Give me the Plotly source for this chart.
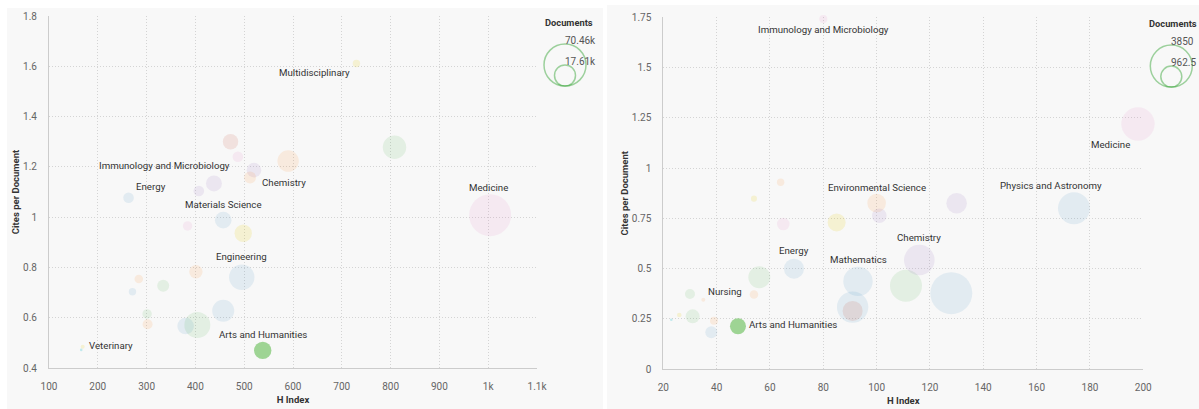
import plotly.graph_objects as go

# ---------------- data: left chart ----------------
left_subjects = [
    "Neuroscience", "Immunology and Microbiology", "Earth and Planetary Sciences",
    "Chemistry", "Chemical Engineering", "Economics, Econometrics and Finance",
    "Business, Management and Accounting", "Energy", "Materials Science",
    "Pharmacology, Toxicology and Pharmaceutics", "Decision Sciences", "Health Professions",
    "Engineering", "Nursing", "Psychology", "Mathematics",
    "Biochemistry, Genetics and Molecular Biology", "Environmental Science",
    "Physics and Astronomy", "Computer Science", "Social Sciences", "Arts and Humanities",
    "Veterinary", "Dentistry", "Multidisciplinary", "Agricultural and Biological Sciences",
    "Medicine",
]
left_h_index = [472, 487, 590, 520, 512, 438, 407, 263, 457, 384, 498, 401, 495, 284,
                334, 271, 301, 302, 457, 380, 404, 538, 169, 166, 730, 808, 1004]
left_cites = [1.30, 1.24, 1.223, 1.187, 1.158, 1.134, 1.104, 1.077, 0.988, 0.965, 0.936,
              0.783, 0.761, 0.754, 0.727, 0.703, 0.615, 0.574, 0.628, 0.567, 0.571, 0.470,
              0.485, 0.472, 1.611, 1.278, 1.008]
left_documents = [9475, 4490, 18300, 8515, 5750, 10225, 4490, 4490, 11010, 3530, 12095,
                  7170, 25775, 2955, 5750, 2190, 3530, 3995, 19335, 11010, 27005, 12095,
                  640, 270, 2190, 21875, 70460]
left_labelled = ["Immunology and Microbiology", "Chemistry", "Energy", "Materials Science",
                 "Engineering", "Arts and Humanities", "Veterinary", "Multidisciplinary",
                 "Medicine"]
left_legend_values = [70460, 17615]
left_legend_text = ["70.46k", "17.61k"]
left_x_ticks = [100, 200, 300, 400, 500, 600, 700, 800, 900, 1000, 1100]
left_x_ticktext = ["100", "200", "300", "400", "500", "600", "700", "800", "900", "1k", "1.1k"]
left_y_ticks = [0.4, 0.6, 0.8, 1.0, 1.2, 1.4, 1.6, 1.8]
left_y_ticktext = ["0.4", "0.6", "0.8", "1", "1.2", "1.4", "1.6", "1.8"]

# ---------------- data: right chart ----------------
right_subjects = [
    "Earth and Planetary Sciences", "Multidisciplinary", "Environmental Science",
    "Business, Management and Accounting", "Pharmacology, Toxicology and Pharmaceutics",
    "Decision Sciences", "Energy", "Psychology",
    "Biochemistry, Genetics and Molecular Biology", "Nursing", "Health Professions",
    "Veterinary", "Dentistry", "Agricultural and Biological Sciences", "Chemical Engineering",
    "Materials Science", "Arts and Humanities", "Mathematics", "Computer Science",
    "Neuroscience", "Social Sciences", "Chemistry", "Engineering",
    "Economics, Econometrics and Finance", "Physics and Astronomy", "Medicine",
    "Immunology and Microbiology",
]
right_h_index = [64, 54, 100, 101, 65, 85, 69, 56, 30, 35, 54, 26, 23, 31, 39, 38, 48,
                 93, 91, 91, 111, 116, 128, 130, 174, 198, 80]
right_cites = [0.929, 0.848, 0.826, 0.763, 0.722, 0.730, 0.500, 0.457, 0.374, 0.346, 0.372,
               0.270, 0.246, 0.263, 0.241, 0.184, 0.214, 0.437, 0.309, 0.290, 0.415, 0.543,
               0.378, 0.825, 0.800, 1.219, 1.740]
right_documents = [120, 79, 755, 465, 347, 707, 873, 1056, 218, 35, 161, 46, 15, 428, 140,
                   314, 559, 1886, 2152, 873, 2235, 2044, 3850, 926, 2235, 2435, 140]
right_labelled = ["Immunology and Microbiology", "Environmental Science", "Energy",
                  "Mathematics", "Nursing", "Arts and Humanities", "Chemistry",
                  "Physics and Astronomy", "Medicine"]
right_legend_values = [3850, 962.5]
right_legend_text = ["3850", "962.5"]
right_x_ticks = [20, 40, 60, 80, 100, 120, 140, 160, 180, 200]
right_y_ticks = [0, 0.25, 0.5, 0.75, 1.0, 1.25, 1.5, 1.75]
right_y_ticktext = ["0", "0.25", "0.5", "0.75", "1", "1.25", "1.5", "1.75"]

# ---------------- styling ----------------
GROUP_COLOURS = {
    "blue": "rgba(31,119,180,0.14)",
    "orange": "rgba(255,127,14,0.15)",
    "green": "rgba(44,160,44,0.14)",
    "yellow": "rgba(230,200,0,0.22)",
    "purple": "rgba(148,103,189,0.17)",
    "pink": "rgba(227,119,194,0.16)",
    "brown": "rgba(200,100,80,0.22)",
    "teal": "rgba(23,190,207,0.35)",
    "highlight": "#77c46a",
}
SUBJECT_GROUP = {
    "Energy": "blue", "Engineering": "blue", "Materials Science": "blue",
    "Physics and Astronomy": "blue", "Mathematics": "blue", "Computer Science": "blue",
    "Environmental Science": "orange", "Nursing": "orange", "Chemical Engineering": "orange",
    "Earth and Planetary Sciences": "orange", "Health Professions": "orange",
    "Arts and Humanities": "highlight", "Agricultural and Biological Sciences": "green",
    "Social Sciences": "green", "Biochemistry, Genetics and Molecular Biology": "green",
    "Psychology": "green",
    "Multidisciplinary": "yellow", "Veterinary": "yellow", "Decision Sciences": "yellow",
    "Chemistry": "purple", "Economics, Econometrics and Finance": "purple",
    "Business, Management and Accounting": "purple",
    "Medicine": "pink", "Immunology and Microbiology": "pink",
    "Pharmacology, Toxicology and Pharmaceutics": "pink",
    "Neuroscience": "brown", "Dentistry": "teal",
}
# label placement around the bubble: (xanchor, xshift px, yshift px)
LEFT_LABEL_POS = {
    "Immunology and Microbiology": ("right", -6, -9),
    "Chemistry": ("left", 6, -12),
    "Energy": ("left", 5, 11),
    "Materials Science": ("center", 0, 16),
    "Engineering": ("center", 0, 21),
    "Arts and Humanities": ("center", 0, 16),
    "Veterinary": ("left", 4, 1),
    "Multidisciplinary": ("right", -4, -9),
    "Medicine": ("center", -2, 28),
}
RIGHT_LABEL_POS = {
    "Immunology and Microbiology": ("center", 0, -10),
    "Environmental Science": ("center", 0, 16),
    "Energy": ("center", 0, 18),
    "Mathematics": ("center", 1, 22),
    "Nursing": ("left", 3, 8),
    "Arts and Humanities": ("left", 9, 2),
    "Chemistry": ("center", 0, 23),
    "Physics and Astronomy": ("center", -23, 23),
    "Medicine": ("right", -6, -21),
}

W, H = 1199, 409
PANEL = "#f8f8f8"
GRID = "#d4d4d4"
AXIS_LINE = "#cccccc"
TICK_FONT = dict(family="Roboto", size=10, color="#666666")
TITLE_FONT = dict(family="Roboto", size=9.5, color="#333333")
LABEL_FONT = dict(family="Roboto", size=9.7, color="#333333")
BUBBLE_D = 42  # diameter of the biggest bubble, px

L_DOM_X = [49 / W, 537 / W]
L_DOM_Y = [1 - 368 / H, 1 - 16 / H]
R_DOM_X = [663.3 / W, 1143.3 / W]
R_DOM_Y = [1 - 369.3 / H, 1 - 17.1 / H]

fig = go.Figure()


def add_chart(subjects, hx, cy, docs, legend_vals, xa, ya):
    sizeref = 2.0 * legend_vals[0] / BUBBLE_D ** 2
    fig.add_trace(go.Scatter(
        x=hx, y=cy, mode="markers", xaxis=xa, yaxis=ya, cliponaxis=False,
        text=subjects, customdata=docs,
        hovertemplate="%{text}<br>H Index: %{x}<br>Cites per Document: %{y}"
                      "<br>Documents: %{customdata}<extra></extra>",
        marker=dict(size=docs, sizemode="area", sizeref=sizeref, sizemin=0,
                    color=[GROUP_COLOURS[SUBJECT_GROUP[s]] for s in subjects],
                    line=dict(width=0)),
        showlegend=False,
    ))
    return sizeref


left_ref = add_chart(left_subjects, left_h_index, left_cites, left_documents,
                     left_legend_values, "x", "y")
right_ref = add_chart(right_subjects, right_h_index, right_cites, right_documents,
                      right_legend_values, "x2", "y2")

annotations = []


def add_labels(subjects, hx, cy, labelled, pos, xref, yref):
    for name in labelled:
        i = subjects.index(name)
        anchor, dx, dy = pos[name]
        annotations.append(dict(
            x=hx[i], y=cy[i], xref=xref, yref=yref, text=name, showarrow=False,
            xanchor=anchor, yanchor="middle", xshift=dx, yshift=dy, font=LABEL_FONT))


add_labels(left_subjects, left_h_index, left_cites, left_labelled, LEFT_LABEL_POS, "x", "y")
add_labels(right_subjects, right_h_index, right_cites, right_labelled, RIGHT_LABEL_POS,
           "x2", "y2")

shapes = [
    dict(type="rect", xref="paper", yref="paper", x0=7 / W, x1=603 / W, y0=0, y1=1 - 8 / H,
         fillcolor=PANEL, line=dict(width=0), layer="below"),
    dict(type="rect", xref="paper", yref="paper", x0=607 / W, x1=1, y0=0, y1=1 - 5 / H,
         fillcolor=PANEL, line=dict(width=0), layer="below"),
]


def add_size_legend(dom_x, dom_y, vals, texts, sizeref, title_dx):
    cx = dom_x[1] + 28 / W
    bottom = dom_y[1] - 70 / H
    annotations.append(dict(
        x=dom_x[1] + title_dx / W, y=dom_y[1], xref="paper", yref="paper",
        text="<b>Documents</b>", showarrow=False, xanchor="left", yanchor="middle",
        yshift=-6.5, font=dict(family="Roboto", size=9.3, color="#333333")))
    for v, t in zip(vals, texts):
        r = (v / 2.0 / sizeref) ** 0.5
        shapes.append(dict(
            type="circle", xref="paper", yref="paper", xsizemode="pixel", ysizemode="pixel",
            xanchor=cx, yanchor=bottom, x0=-r, x1=r, y0=0, y1=2 * r,
            line=dict(color="rgba(44,160,44,0.45)", width=1.5), fillcolor="rgba(0,0,0,0)"))
        annotations.append(dict(
            x=cx, y=bottom, xref="paper", yref="paper", text=t, showarrow=False,
            xanchor="left", yanchor="middle", yshift=2 * r + 3.5, xshift=-2,
            font=dict(family="Roboto", size=10, color="#555555")))


add_size_legend(L_DOM_X, L_DOM_Y, left_legend_values, left_legend_text, left_ref, 6)
add_size_legend(R_DOM_X, R_DOM_Y, right_legend_values, right_legend_text, right_ref, 4)

axis_common = dict(
    showgrid=True, gridcolor=GRID, griddash="1px,2px", gridwidth=1, zeroline=False,
    showline=True, linecolor=AXIS_LINE, linewidth=1, ticks="", tickfont=TICK_FONT,
    automargin=False, fixedrange=True,
)

fig.update_layout(
    width=W, height=H, margin=dict(l=0, r=0, t=0, b=0),
    paper_bgcolor="white", plot_bgcolor="rgba(0,0,0,0)",
    font=dict(family="Roboto"),
    xaxis=dict(domain=L_DOM_X, range=[100, 1100], tickvals=left_x_ticks,
               ticktext=left_x_ticktext, anchor="y", ticklabelstandoff=9,
               title=dict(text="<b>H Index</b>", font=TITLE_FONT, standoff=5),
               **axis_common),
    yaxis=dict(domain=L_DOM_Y, range=[0.4, 1.8], tickvals=left_y_ticks,
               ticktext=left_y_ticktext, anchor="x", ticklabelstandoff=9,
               title=dict(text="<b>Cites per Document</b>", font=TITLE_FONT, standoff=1),
               **axis_common),
    xaxis2=dict(domain=R_DOM_X, range=[20, 200], tickvals=right_x_ticks, anchor="y2",
                ticklabelstandoff=9,
                title=dict(text="<b>H Index</b>", font=TITLE_FONT, standoff=5),
                **axis_common),
    yaxis2=dict(domain=R_DOM_Y, range=[0, 1.75], tickvals=right_y_ticks,
                ticktext=right_y_ticktext, anchor="x2", ticklabelstandoff=9,
                title=dict(text="<b>Cites per Document</b>", font=TITLE_FONT, standoff=1),
                **axis_common),
    shapes=shapes,
    annotations=annotations,
)

fig.write_html("out.html", config={"displayModeBar": False},
               post_script="document.body.style.margin='0';document.body.style.overflow='hidden';")
